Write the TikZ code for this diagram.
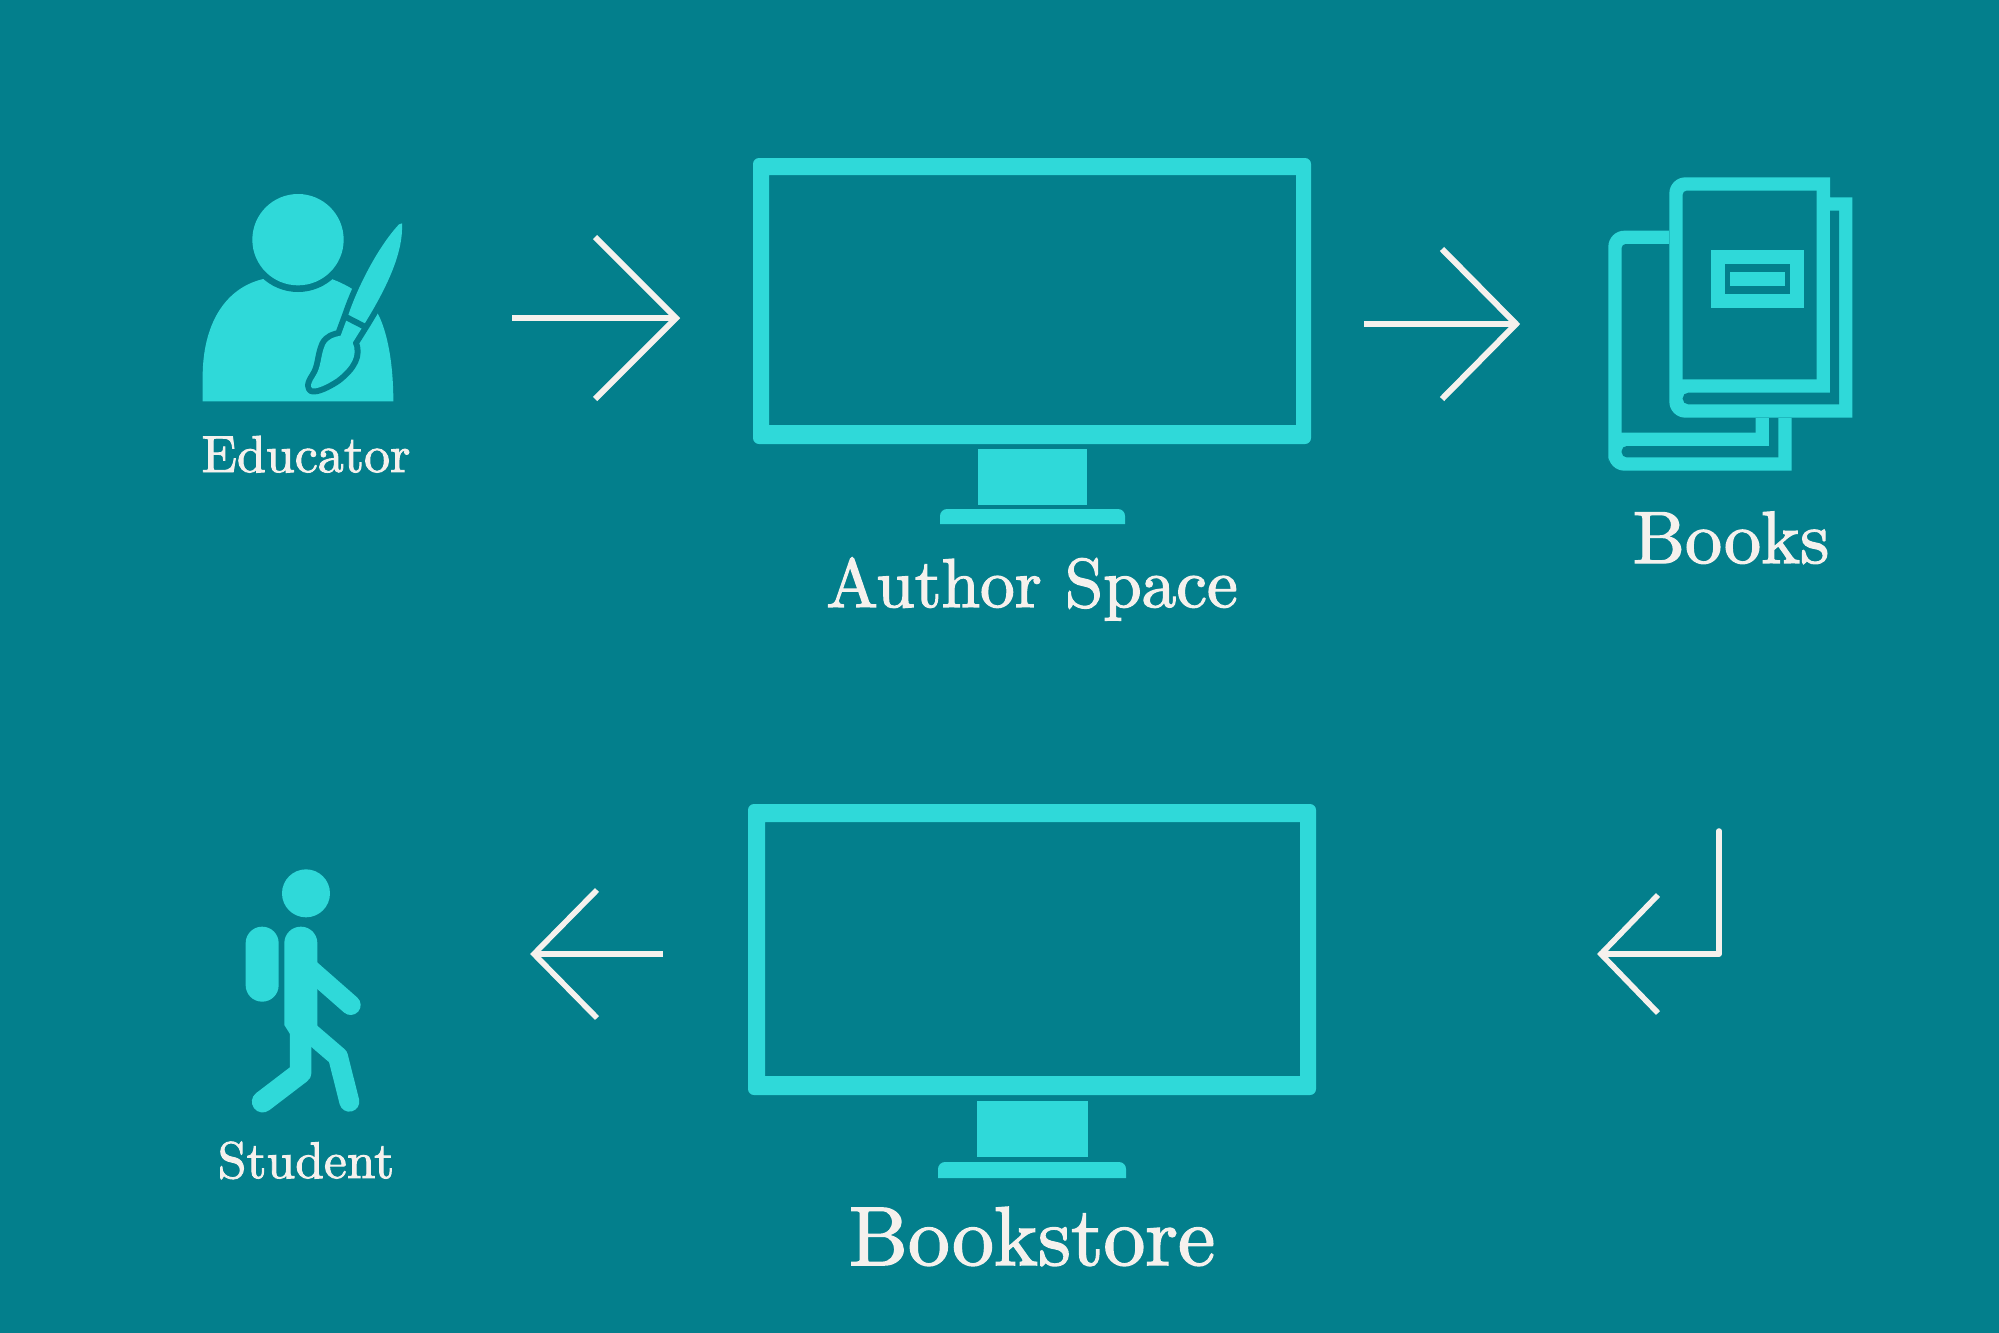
\documentclass[tikz,border=0pt]{standalone}
\usepackage{fontspec}
\newfontfamily\labfont[FakeBold=1.8]{lmroman10-regular.otf}
\definecolor{bgteal}{HTML}{037F8C}
\definecolor{icon}{HTML}{2FD9D9}
\definecolor{ink}{HTML}{F5F1ED}
\tikzset{
  zoomed/.style={x=0.16667pt,y=-0.16667pt},
  lab/.style={text=ink,anchor=base,inner sep=0pt,font=\labfont},
  arrowline/.style={draw=ink,line width=#1,line cap=butt,line join=miter,fill=none}
}
\begin{document}
\begin{tikzpicture}[x=0.5pt,y=-0.5pt]
\useasboundingbox (0,0) rectangle (1999,1333);
\fill[bgteal] (0,0) rectangle (1999,1333);

% Educator
\begin{scope}[shift={(180,170)},zoomed]
  \fill[icon] (68,694) -- (640,694) .. controls (640,590) and (625,490) .. (592,428)
     .. controls (570,395) and (530,355) .. (455,327) -- (250,327)
     .. controls (130,355) and (68,470) .. (68,620) -- cycle;
  \fill[bgteal] (354,209) circle[radius=157];
  \fill[icon] (354,209) circle[radius=137];
  \def\brush{(666,160) .. controls (670,240) and (630,340) .. (545,475) -- (518,518)
     .. controls (535,555) and (515,590) .. (470,625) .. controls (440,645) and (410,658) .. (397,655)
     .. controls (388,650) and (395,635) .. (405,620) .. controls (425,590) and (420,560) .. (435,525)
     .. controls (445,505) and (465,500) .. (482,497) -- (506,432)
     .. controls (530,360) and (590,235) .. (657,163) -- cycle}
  \draw[bgteal,line width=6pt,line join=round] \brush;
  \fill[icon] \brush;
  \draw[bgteal,line width=3pt] (490,437) -- (556,471);
\end{scope}

% Monitor 1
\fill[icon,even odd rule] [rounded corners=3pt] (753,158) rectangle (1311,444)
  [sharp corners] (769,175) rectangle (1296,425);
\fill[icon] (978,449) rectangle (1087,505);
\fill[icon] (940,524) [rounded corners=3.5pt] -- (940,509) -- (1125,509) [sharp corners] -- (1125,524) -- cycle;

% Monitor 2
\fill[icon,even odd rule] [rounded corners=3pt] (748,804) rectangle (1316,1095)
  [sharp corners] (765,822) rectangle (1300,1076);
\fill[icon] (977,1101) rectangle (1088,1157);
\fill[icon] (938,1178) [rounded corners=3.5pt] -- (938,1162) -- (1126,1162) [sharp corners] -- (1126,1178) -- cycle;

% Books
\begin{scope}[shift={(1590,160)},zoomed]
  % back book
  \fill[icon] (55,932) [rounded corners=8pt] -- (55,932) -- (55,212) -- (238,212) [sharp corners] -- (605,212) -- (605,932) [rounded corners=8pt] -- cycle;
  \fill[bgteal] [rounded corners=2pt] (238,252) -- (95,252) -- (95,300) [sharp corners] -- (95,818) -- (497,818) -- (497,252) -- cycle;
  \fill[bgteal] (537,700) -- (537,858) [rounded corners=2.5pt] -- (95,858) -- (95,892) [sharp corners] -- (565,892) -- (565,700) -- cycle;
  % front book
  \fill[bgteal] (238,200) rectangle (620,773);
  \fill[icon] (720,52) -- (720,112) -- (787,112) -- (787,773) [rounded corners=8pt] -- (238,773) -- (238,52) [sharp corners] -- cycle;
  \fill[bgteal] [rounded corners=2pt] (278,300) -- (278,92) -- (400,92) [sharp corners] -- (680,92) -- (680,658) -- (278,658) -- cycle;
  \fill[bgteal] (720,152) -- (747,152) -- (747,733) [rounded corners=2.8pt] -- (278,733) -- (278,698) [sharp corners] -- (720,698) -- cycle;
  \fill[icon] (363,270) rectangle (641,443);
  \fill[bgteal] (405,311) rectangle (600,401);
  \fill[icon] (421,336) rectangle (584,378);
\end{scope}

% Student
\begin{scope}[shift={(220,850)},zoomed]
  \fill[icon] (258,130) circle[radius=72];
  \fill[icon,rounded corners=8.2pt] (77,230) rectangle (176,455);
  \fill[icon] (210,552) -- (193,525) [rounded corners=8.2pt] -- (193,230) -- (292,230) [sharp corners] -- (292,530) -- (275,590) -- cycle;
  \draw[icon,line width=10pt,line cap=round] (270,358) -- (392,465);
  \draw[icon,line width=10.8pt,line cap=round,line join=round] (242,540) -- (242,668) -- (128,755);
  \draw[icon,line width=10pt,line cap=round,line join=round] (255,535) -- (354,620) -- (388,755);
\end{scope}

% Arrows
\coordinate (a1s) at (512,318); \coordinate (a1t) at (676,318);
\coordinate (a1u) at (595,237); \coordinate (a1d) at (595,399);
\draw[arrowline=3.2pt] (a1s) -- (a1t);
\draw[arrowline=3pt] (a1u) -- (a1t) -- (a1d);

\coordinate (a2s) at (1364,324); \coordinate (a2t) at (1516,324);
\coordinate (a2u) at (1442,249); \coordinate (a2d) at (1442,399);
\draw[arrowline=3pt] (a2s) -- (a2t);
\draw[arrowline=3pt] (a2u) -- (a2t) -- (a2d);

\coordinate (a3s) at (1719,831); \coordinate (a3c) at (1719,954); \coordinate (a3t) at (1601,954);
\coordinate (a3u) at (1658,895); \coordinate (a3d) at (1658,1013);
\draw[arrowline=2.8pt,line cap=round,line join=round] (a3s) -- (a3c) -- (a3t);
\draw[arrowline=2.8pt] (a3u) -- (a3t) -- (a3d);

\coordinate (a4s) at (663,954); \coordinate (a4t) at (534,954);
\coordinate (a4u) at (597,890); \coordinate (a4d) at (597,1018);
\draw[arrowline=2.8pt] (a4s) -- (a4t);
\draw[arrowline=2.8pt] (a4u) -- (a4t) -- (a4d);

% Labels
\node[lab,font=\labfont\fontsize{26}{30}\selectfont] (educator) at (306,472) {Educator};
\node[lab,font=\labfont\fontsize{34.6}{40}\selectfont] (author) at (1032,607) {Author Space};
\node[lab,font=\labfont\fontsize{37}{44}\selectfont] (books) at (1731,563) {Books};
\node[lab,font=\labfont\fontsize{25.8}{30}\selectfont] (student) at (306,1178) {Student};
\node[lab,font=\labfont\fontsize{41.8}{50}\selectfont] (bookstore) at (1032,1265) {Bookstore};
\end{tikzpicture}
\end{document}
